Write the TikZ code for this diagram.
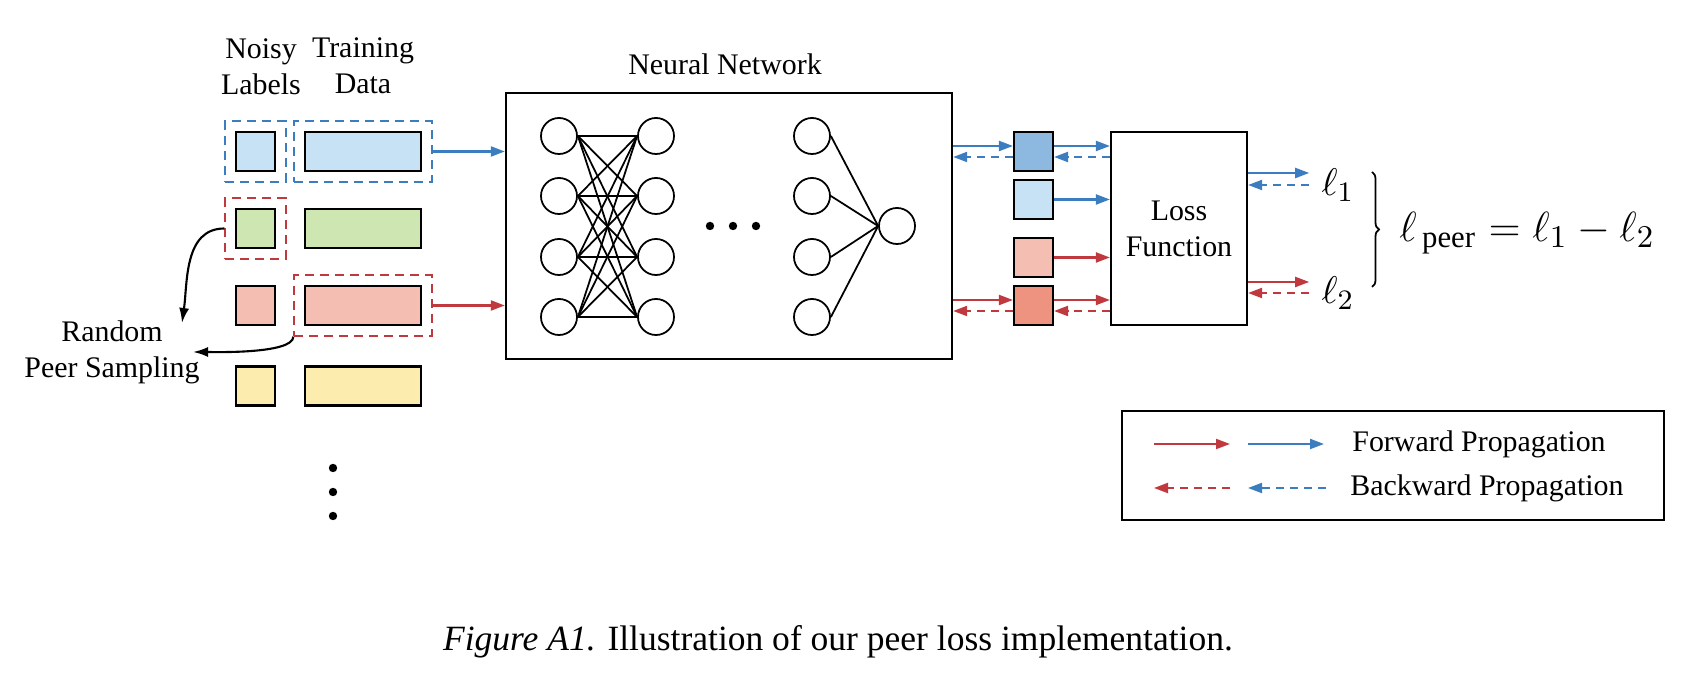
\documentclass[tikz,border=0pt]{standalone}
\usepackage{fontspec}
\setmainfont{Liberation Serif}
\usetikzlibrary{arrows.meta,fit,decorations.pathreplacing}

\definecolor{lblue}{HTML}{C8E2F5}
\definecolor{dblue}{HTML}{8DB8E0}
\definecolor{lgreen}{HTML}{CDE6B2}
\definecolor{lpink}{HTML}{F4BEB2}
\definecolor{dsalmon}{HTML}{EF9381}
\definecolor{lyellow}{HTML}{FCEDAF}
\definecolor{fblue}{HTML}{3B7DBE}
\definecolor{fred}{HTML}{C0393F}

\tikzset{
	lab/.style={draw, line width=0.6pt, minimum width=0.39cm, minimum height=0.39cm, inner sep=0pt},
	dat/.style={draw, line width=0.6pt, minimum width=1.16cm, minimum height=0.39cm, inner sep=0pt},
	sqr/.style={draw, line width=0.6pt, minimum width=0.39cm, minimum height=0.39cm, inner sep=0pt},
	neuron/.style={draw, circle, line width=0.5pt, minimum size=0.36cm, inner sep=0pt},
	bdash/.style={draw=fblue, line width=0.6pt, dash pattern=on 0.09cm off 0.06cm, inner sep=0.095cm},
	rdash/.style={draw=fred, line width=0.6pt, dash pattern=on 0.09cm off 0.06cm, inner sep=0.095cm},
	tip/.style={-{Triangle[length=0.14cm,width=0.1cm]}},
	fwdb/.style={tip, fblue, line width=0.6pt},
	fwdr/.style={tip, fred, line width=0.6pt},
	bwdb/.style={tip, fblue, line width=0.6pt, dash pattern=on 0.08cm off 0.06cm},
	bwdr/.style={tip, fred, line width=0.6pt, dash pattern=on 0.08cm off 0.06cm},
	curv/.style={-{Latex[length=0.15cm,width=0.1cm]}, line width=0.6pt},
}
\newcommand{\up}{0.055cm}

\begin{document}
\begin{tikzpicture}[x=0.01cm, y=-0.01cm, font=\fontsize{8.5}{10.2}\selectfont]
		\useasboundingbox (0,0) rectangle (1690,674);
		
		% labels and training data
		\node[align=center] (tnl) at (261,67) {Noisy\\Labels};
		\node[align=center] (ttd) at (363,66) {Training\\Data};
		\foreach \r/\y/\c in {a/151.5/lblue, b/228.5/lgreen, c/305.5/lpink, d/386/lyellow} {
			\node[lab, fill=\c] (l\r) at (255.5,\y) {};
			\node[dat, fill=\c] (d\r) at (363,\y) {};
		}
		\node[bdash, fit=(la)] (fla) {};
		\node[bdash, fit=(da)] (fda) {};
		\node[rdash, fit=(lb)] (flb) {};
		\node[rdash, fit=(dc)] (fdc) {};
		\foreach \y in {468,492,516}
			\fill (333,\y) circle (4.2);
		
		% random peer sampling
		\node[align=center] (rps) at (112,352) {Random\\Peer Sampling};
		\coordinate (tipa) at (182,323);
		\coordinate (tipb) at (193,352);
		\draw[curv] (flb.west) to[out=180,in=82] (tipa);
		\draw[curv] (fdc.south west) to[out=-90,in=0,looseness=0.45] (tipb);
		
		% neural network
		\node (tnn) at (725,64) {Neural Network};
		\node[draw, line width=0.6pt, minimum width=4.46cm, minimum height=2.66cm] (nn) at (729,226) {};
		\foreach \i/\y in {1/136,2/196,3/257,4/317} {
			\node[neuron] (p\i) at (559,\y) {};
			\node[neuron] (q\i) at (656,\y) {};
			\node[neuron] (r\i) at (812,\y) {};
		}
		\node[neuron] (o) at (897,226) {};
		\foreach \i in {1,...,4} {
			\foreach \j in {1,...,4}
				\draw[line width=0.5pt] (p\i.east) -- (q\j.west);
			\draw[line width=0.5pt] (r\i.east) -- (o.west);
		}
		\foreach \x in {710,733,756}
			\fill (\x,226) circle (4.2);
		
		\draw[fwdb] (fda.east) -- (fda.east -| nn.west);
		\draw[fwdr] (fdc.east) -- (fdc.east -| nn.west);
		
		% outputs and loss
		\node[sqr, fill=dblue] (sa) at (1033.5,151.5) {};
		\node[sqr, fill=lblue] (sb) at (1033.5,199.5) {};
		\node[sqr, fill=lpink] (sc) at (1033.5,257.5) {};
		\node[sqr, fill=dsalmon] (sd) at (1033.5,305.5) {};
		\node[draw, line width=0.6pt, minimum width=1.36cm, minimum height=1.93cm, align=center] (loss) at (1179,228.5) {Loss\\Function};
		
		\draw[fwdb] ([yshift=\up]nn.east |- sa) -- ([yshift=\up]sa.west);
		\draw[bwdb] ([yshift=-\up]sa.west) -- ([yshift=-\up]nn.east |- sa);
		\draw[fwdb] ([yshift=\up]sa.east) -- ([yshift=\up]loss.west |- sa);
		\draw[bwdb] ([yshift=-\up]loss.west |- sa) -- ([yshift=-\up]sa.east);
		\draw[fwdb] (sb.east) -- (loss.west |- sb);
		\draw[fwdr] (sc.east) -- (loss.west |- sc);
		\draw[fwdr] ([yshift=\up]nn.east |- sd) -- ([yshift=\up]sd.west);
		\draw[bwdr] ([yshift=-\up]sd.west) -- ([yshift=-\up]nn.east |- sd);
		\draw[fwdr] ([yshift=\up]sd.east) -- ([yshift=\up]loss.west |- sd);
		\draw[bwdr] ([yshift=-\up]loss.west |- sd) -- ([yshift=-\up]sd.east);
		
		% losses
		\node[font=\fontsize{11}{13}\selectfont] (l1) at (1338,185) {$\ell_1$};
		\node[font=\fontsize{11}{13}\selectfont] (l2) at (1338,293) {$\ell_2$};
		\draw[fwdb] ([yshift=0.12cm]loss.east |- l1) -- ([yshift=0.12cm]l1.west);
		\draw[bwdb] (l1.west) -- (loss.east |- l1);
		\draw[fwdr] ([yshift=0.11cm]loss.east |- l2) -- ([yshift=0.11cm]l2.west);
		\draw[bwdr] (l2.west) -- (loss.east |- l2);
		\draw[line width=0.5pt, decorate, decoration={brace, amplitude=0.07cm}] (1372,172) -- (1372,287);
		\node[anchor=west, font=\fontsize{12.5}{15}\selectfont] (lpeer) at (1387,233) {$\ell_{\,\mathrm{peer}} = \ell_1 - \ell_2$};
		
		% legend
		\node[draw, line width=0.6pt, minimum width=5.42cm, minimum height=1.09cm] (leg) at (1393,465.5) {};
		\coordinate (ra) at (1154,444); \coordinate (rb) at (1230,444);
		\coordinate (ba) at (1248,444); \coordinate (bb) at (1324,444);
		\coordinate (rc) at (1154,488); \coordinate (rd) at (1230,488);
		\coordinate (bc) at (1248,488); \coordinate (bd) at (1326,488);
		\draw[fwdr] (ra) -- (rb);
		\draw[fwdb] (ba) -- (bb);
		\draw[bwdr] (rd) -- (rc);
		\draw[bwdb] (bd) -- (bc);
		\node[anchor=west] (tfw) at (1340,444) {Forward Propagation};
		\node[anchor=west] (tbw) at (1338,488) {Backward Propagation};
		
		% caption
		\node[font=\fontsize{10.1}{12}\selectfont] (cap) at (838,642) {\textit{Figure A1.} Illustration of our peer loss implementation.};
	\end{tikzpicture}
\end{document}
